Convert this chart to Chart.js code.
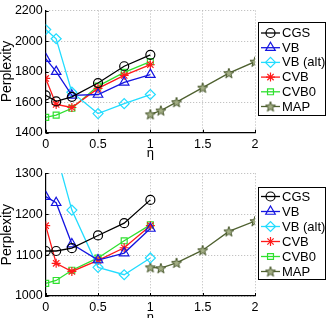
<!DOCTYPE html>
<html>
<head>
<meta charset="utf-8">
<script src="https://cdn.jsdelivr.net/npm/chart.js@4.4.0/dist/chart.umd.min.js"></script>
<style>
  html, body { margin: 0; padding: 0; background: #fff; overflow: hidden; }
  body { width: 327px; height: 318px; position: relative; }
  canvas { position: absolute; left: 0; }
</style>
</head>
<body>
<canvas id="top" width="327" height="160" style="top:0"></canvas>
<canvas id="bottom" width="327" height="170" style="top:160px"></canvas>
<script>
// eta values shared by most methods, MAP runs on its own range
const eta = [0, 0.1, 0.25, 0.5, 0.75, 1];
const etaMap = [1, 1.1, 1.25, 1.5, 1.75, 2];
const seriesNames = ["CGS", "VB", "VB (alt)", "CVB", "CVB0", "MAP"];

// upper panel
const cgsTop = [1645, 1605, 1635, 1725, 1835, 1910];
const vbTop = [1885, 1800, 1645, 1650, 1730, 1780];
const vbAltTop = [2075, 2015, 1665, 1525, 1590, 1650];
const cvbTop = [1755, 1585, 1565, 1690, 1775, 1845];
const cvb0Top = [1500, 1515, 1560, 1705, 1795, 1865];
const mapTop = [1520, 1545, 1600, 1695, 1790, 1865];
const yTicksTop = [1400, 1600, 1800, 2000, 2200];

// lower panel
const cgsBot = [1110, 1110, 1117, 1148, 1178, 1235];
const vbBot = [1243, 1228, 1127, 1088, 1105, 1165];
const vbAltBot = [1390, 1350, 1210, 1070, 1052, 1093];
const cvbBot = [1172, 1080, 1060, 1087, 1118, 1172];
const cvb0Bot = [1031, 1038, 1063, 1093, 1135, 1174];
const mapBot = [1070, 1068, 1081, 1112, 1158, 1183];
const yTicksBot = [1000, 1100, 1200, 1300];

const xTicks = [0, 0.5, 1, 1.5, 2];

const FONT = "'Liberation Sans', Arial, sans-serif";

// pentagram marker for MAP (no built-in style for it)
function makeStar() {
    const c = document.createElement("canvas");
    c.width = 12; c.height = 12;
    const g = c.getContext("2d");
    g.beginPath();
    for (let i = 0; i < 10; i++) {
        const r = i % 2 === 0 ? 5.3 : 2.2;
        const a = -Math.PI / 2 + i * Math.PI / 5;
        const px = 6 + r * Math.cos(a), py = 6.4 + r * Math.sin(a);
        if (i === 0) g.moveTo(px, py); else g.lineTo(px, py);
    }
    g.closePath();
    g.fillStyle = "#a3ae85";
    g.fill();
    g.lineWidth = 1;
    g.strokeStyle = "#46562a";
    g.stroke();
    return c;
}
const starImg = makeStar();

const styles = [
    {color: "#000000", pointStyle: "circle", radius: 4.5},
    {color: "#1515e0", pointStyle: "triangle", radius: 5.5},
    {color: "#22dcff", pointStyle: "rectRot", radius: 5},
    {color: "#ff1a1a", pointStyle: "star", radius: 4.5},
    {color: "#2fe02f", pointStyle: "rect", radius: 4.2},
    {color: "#4f6130", pointStyle: starImg, radius: 5},
];

function pts(xs, ys) {
    return xs.map((x, i) => ({x: x, y: ys[i]}));
}

function makeDatasets(lists) {
    return lists.map((ys, i) => {
        const st = styles[i];
        return {
            label: seriesNames[i],
            data: pts(i === 5 ? etaMap : eta, ys),
            borderColor: st.color,
            backgroundColor: "rgba(0,0,0,0)",
            borderWidth: 1.3,
            pointStyle: st.pointStyle,
            pointRadius: st.radius,
            pointHoverRadius: st.radius,
            pointBorderColor: st.color,
            pointBackgroundColor: "rgba(0,0,0,0)",
            pointBorderWidth: 1.2,
            tension: 0,
        };
    });
}

// MATLAB-ish boxed legend drawn on top of the plot
const boxLegend = {
    id: "boxLegend",
    afterDraw(chart, args, opts) {
        const ctx = chart.ctx;
        const b = opts.box;
        ctx.save();
        ctx.fillStyle = "#fff";
        ctx.fillRect(b.x, b.y, b.w, b.h);
        ctx.strokeStyle = "#000";
        ctx.lineWidth = 1;
        ctx.strokeRect(b.x + 0.5, b.y + 0.5, b.w, b.h);
        ctx.font = "13px " + FONT;
        ctx.textBaseline = "middle";
        chart.data.datasets.forEach((ds, i) => {
            const y = b.y + opts.first + i * opts.step;
            const x0 = b.x + 3, x1 = b.x + 22;
            ctx.strokeStyle = ds.borderColor;
            ctx.lineWidth = 1.3;
            ctx.beginPath();
            ctx.moveTo(x0, y);
            ctx.lineTo(x1, y);
            ctx.stroke();
            ctx.lineWidth = 1.2;
            ctx.strokeStyle = ds.borderColor;
            ctx.fillStyle = "rgba(0,0,0,0)";
            Chart.helpers.drawPoint(ctx, {
                pointStyle: ds.pointStyle,
                radius: ds.pointRadius,
                rotation: 0,
                borderWidth: 1.2,
            }, (x0 + x1) / 2, y);
            ctx.fillStyle = "#000";
            ctx.fillText(ds.label, x1 + 2, y + 0.5);
        });
        ctx.restore();
    }
};

// short inward tick marks on the left and bottom axes
const innerTicks = {
    id: "innerTicks",
    afterDatasetsDraw(chart) {
        const ctx = chart.ctx;
        const a = chart.chartArea;
        const xs = chart.scales.x, ys = chart.scales.y;
        ctx.save();
        ctx.strokeStyle = "#000";
        ctx.lineWidth = 1;
        ctx.beginPath();
        xs.ticks.forEach(t => {
            const px = Math.round(xs.getPixelForValue(t.value)) + 0.5;
            ctx.moveTo(px, a.bottom);
            ctx.lineTo(px, a.bottom - 3);
        });
        ys.ticks.forEach(t => {
            const py = Math.round(ys.getPixelForValue(t.value)) + 0.5;
            ctx.moveTo(a.left, py);
            ctx.lineTo(a.left + 3, py);
        });
        ctx.stroke();
        ctx.restore();
    }
};

function makeChart(id, lists, yTicks, lay) {
    return new Chart(document.getElementById(id), {
        type: "line",
        data: {datasets: makeDatasets(lists)},
        options: {
            responsive: false,
            animation: false,
            events: [],
            layout: {padding: {top: lay.top, right: lay.right, left: 0, bottom: 0}},
            plugins: {
                legend: {display: false},
                tooltip: {enabled: false},
                boxLegend: {box: lay.box, first: lay.first, step: lay.step},
            },
            scales: {
                x: {
                    type: "linear",
                    min: 0,
                    max: 2,
                    afterBuildTicks(s) { s.ticks = xTicks.map(v => ({value: v})); },
                    afterFit(s) { s.height = lay.xh; },
                    grid: {
                        color: "#b5b5b5",
                        lineWidth: 1,
                        drawTicks: false,
                    },
                    // in v4 border.dash is the dash of the grid lines
                    border: {display: true, color: "#000", width: 1.2, dash: [1, 2]},
                    ticks: {
                        padding: 4,
                        color: "#000",
                        font: {family: FONT, size: 12.5},
                        maxRotation: 0,
                        callback: v => String(v),
                    },
                    title: {
                        display: true,
                        text: "η",
                        color: "#000",
                        font: {family: FONT, size: 13, lineHeight: 1},
                        padding: {top: 0, bottom: lay.titlePad},
                    },
                },
                y: {
                    min: yTicks[0],
                    max: yTicks[yTicks.length - 1],
                    afterBuildTicks(s) { s.ticks = yTicks.map(v => ({value: v})); },
                    afterFit(s) { s.width = 45.7; },
                    grid: {
                        color: "#b5b5b5",
                        lineWidth: 1,
                        drawTicks: false,
                    },
                    border: {display: true, color: "#000", width: 1.2, dash: [1, 2]},
                    ticks: {
                        padding: 3,
                        color: "#000",
                        font: {family: FONT, size: 12.5},
                        callback: v => String(v),
                    },
                    title: {
                        display: true,
                        text: "Perplexity",
                        color: "#000",
                        font: {family: FONT, size: 14, lineHeight: 1},
                        padding: {top: 0, bottom: 0},
                    },
                },
            },
        },
        plugins: [innerTicks, boxLegend],
    });
}

const topChart = makeChart("top",
    [cgsTop, vbTop, vbAltTop, cvbTop, cvb0Top, mapTop], yTicksTop,
    {top: 9, right: 72, xh: 27.3, titlePad: 0,
     box: {x: 258, y: 22, w: 67, h: 93}, first: 11, step: 14.7});

const bottomChart = makeChart("bottom",
    [cgsBot, vbBot, vbAltBot, cvbBot, cvb0Bot, mapBot], yTicksBot,
    {top: 13.3, right: 72, xh: 34, titlePad: 6.5,
     box: {x: 258, y: 27, w: 67, h: 92}, first: 9.5, step: 15});
</script>
</body>
</html>
